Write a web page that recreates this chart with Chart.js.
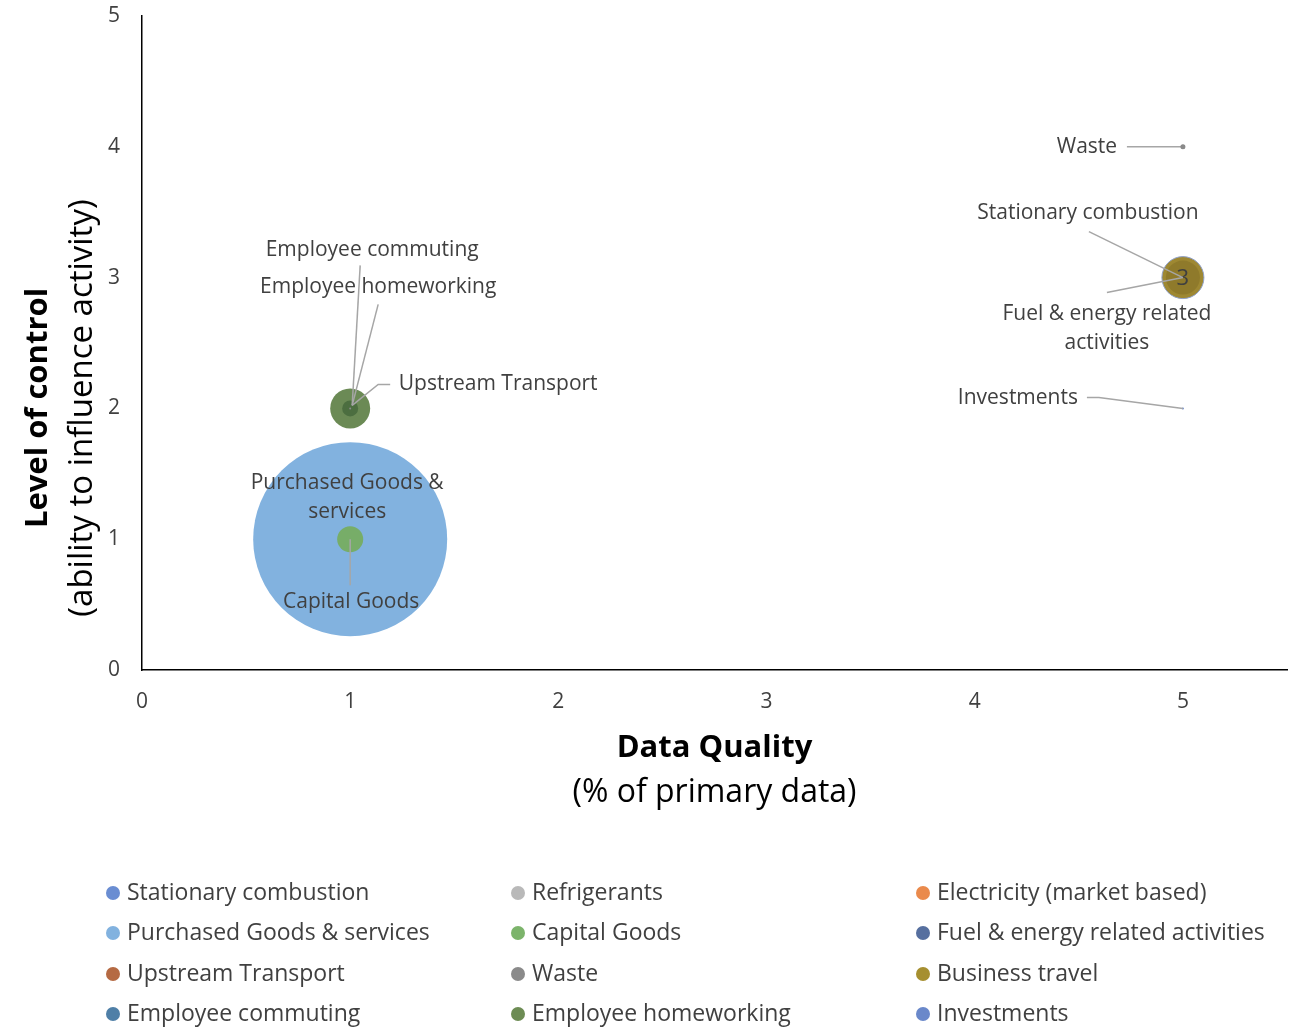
<!DOCTYPE html>
<html>
<head>
<meta charset="utf-8">
<script src="https://cdn.jsdelivr.net/npm/chart.js@4.4.1/dist/chart.umd.min.js"></script>
<style>
  html, body { margin: 0; padding: 0; background: #fff; }
  #wrap { position: relative; width: 1299px; height: 1027px; }
</style>
</head>
<body>
<div id="wrap"><canvas id="chart"></canvas></div>
<script>
// series names, in legend order (row by row)
const seriesNames = [
  'Stationary combustion', 'Refrigerants', 'Electricity (market based)',
  'Purchased Goods & services', 'Capital Goods', 'Fuel & energy related activities',
  'Upstream Transport', 'Waste', 'Business travel',
  'Employee commuting', 'Employee homeworking', 'Investments'
];
// legend swatch colours
const seriesColors = [
  '#6a8dd2', '#b9b9b9', '#ea8a4c',
  '#82b2df', '#7cb46b', '#566f9f',
  '#b56a43', '#8a8a8a', '#a68f30',
  '#4f7fa7', '#6d8c54', '#6a88ca'
];
// bubble fill as it shows on the plot (overlaps look darker there)
const plotColors = [
  '#8f7a2b', '#b9b9b9', '#ea8a4c',
  '#82b2df', '#77ad68', '#8f7a2b',
  '#8a8a8a', '#8a8a8a', '#9e8832',
  '#4c6e40', '#6b8a55', '#6a88ca'
];
// data quality (x), level of control (y), bubble radius (px)
const dataQuality   = [5, null, null, 1, 1, 5, 1, 5, 5, 1, 1, 5];
const controlLevel  = [3, null, null, 1, 1, 3, 2, 4, 3, 2, 2, 2];
const bubbleRadius  = [17, 0, 0, 97, 13, 9, 1, 2, 21, 8, 20, 1];
// drawing order (higher = drawn underneath)
const drawOrder     = [1, 9, 9, 5, 1, 2, 0, 0, 3, 0, 2, 0];
const xTicks = [0, 1, 2, 3, 4, 5];
const yTicks = [0, 1, 2, 3, 4, 5];

const FONT = "'Open Sans', sans-serif";
const TXT = '#404040';

// point labels: series index, text lines, label centre offset from point, leader path offsets
const pointLabels = [
  { i: 7,  lines: ['Waste'], dx: -96, dy: 0, leader: [[-56, 0], [0, 0]], dot: true },
  { i: 0,  lines: ['Stationary combustion'], dx: -95, dy: -65, leader: [[-94, -46], [0, 0]] },
  { i: 5,  lines: ['Fuel & energy related', 'activities'], dx: -76, dy: 51, leader: [[-76, 15], [0, 0]] },
  { i: 11, lines: ['Investments'], dx: -165, dy: -10, leader: [[-96, -11], [-84, -11], [0, 0]] },
  { i: 9,  lines: ['Employee commuting'], dx: 22, dy: -158, leader: [[10, -143], [2, -3]] },
  { i: 10, lines: ['Employee homeworking'], dx: 28, dy: -121, leader: [[28, -104], [2, -3]] },
  { i: 6,  lines: ['Upstream Transport'], dx: 148, dy: -24, leader: [[40, -24], [28, -24], [2, -3]] },
  { i: 3,  lines: ['Purchased Goods &', 'services'], dx: -3, dy: -42, leader: null },
  { i: 4,  lines: ['Capital Goods'], dx: 1, dy: 63, leader: [[0, 46], [0, 0]] }
];

const datasets = seriesNames.map((name, k) => ({
  label: name,
  data: dataQuality[k] === null ? [] : [{ x: dataQuality[k], y: controlLevel[k], r: bubbleRadius[k] }],
  backgroundColor: plotColors[k],
  borderColor: k === 8 ? '#8fa0c8' : plotColors[k],
  borderWidth: k === 8 ? 1 : 0,
  hoverRadius: 0,
  order: drawOrder[k]
}));

const labelPlugin = {
  id: 'labelPlugin',
  afterDatasetsDraw(chart) {
    const ctx = chart.ctx;
    const xs = chart.scales.x, ys = chart.scales.y;
    ctx.save();
    // "3" data label in the gold bubble
    ctx.font = '22px ' + FONT;
    ctx.fillStyle = TXT;
    ctx.textAlign = 'center';
    ctx.textBaseline = 'middle';
    ctx.fillText('3', xs.getPixelForValue(dataQuality[8]), ys.getPixelForValue(controlLevel[8]) + 1);

    pointLabels.forEach(l => {
      const px = xs.getPixelForValue(dataQuality[l.i]);
      const py = ys.getPixelForValue(controlLevel[l.i]);
      if (l.leader) {
        ctx.strokeStyle = '#a6a6a6';
        ctx.lineWidth = 1.5;
        ctx.beginPath();
        l.leader.forEach((p, j) => {
          if (j === 0) ctx.moveTo(px + p[0], py + p[1]);
          else ctx.lineTo(px + p[0], py + p[1]);
        });
        ctx.stroke();
        if (l.dot) {
          ctx.fillStyle = '#8a8a8a';
          ctx.beginPath();
          ctx.arc(px, py, 2.5, 0, Math.PI * 2);
          ctx.fill();
        }
      }
      ctx.font = '21px ' + FONT;
      ctx.fillStyle = TXT;
      ctx.textAlign = 'center';
      ctx.textBaseline = 'middle';
      const lh = 29;
      const y0 = py + l.dy - (l.lines.length - 1) * lh / 2;
      l.lines.forEach((t, j) => ctx.fillText(t, px + l.dx, y0 + j * lh));
    });
    ctx.restore();
  },
  afterDraw(chart) {
    const ctx = chart.ctx;
    const ca = chart.chartArea;
    ctx.save();
    ctx.fillStyle = '#000';
    ctx.textAlign = 'center';
    ctx.textBaseline = 'middle';
    // x axis title
    const cx = (ca.left + ca.right) / 2;
    ctx.font = 'bold 31px ' + FONT;
    ctx.fillText('Data Quality', cx, 748);
    ctx.font = '32px ' + FONT;
    ctx.fillText('(% of primary data)', cx, 793);
    // y axis title (sits a bit below the plot's middle)
    ctx.translate(38, 408);
    ctx.rotate(-Math.PI / 2);
    ctx.font = 'bold 31px ' + FONT;
    ctx.fillText('Level of control', 0, 0);
    ctx.font = '33px ' + FONT;
    ctx.fillText('(ability to influence activity)', 0, 45);
    ctx.restore();

    // legend, 3 columns x 4 rows
    ctx.save();
    const colX = [113, 518, 923];
    const rowY = [893, 933, 974, 1014];
    ctx.font = '23px ' + FONT;
    ctx.textAlign = 'left';
    ctx.textBaseline = 'middle';
    seriesNames.forEach((name, k) => {
      const x = colX[k % 3], y = rowY[Math.floor(k / 3)];
      ctx.fillStyle = seriesColors[k];
      ctx.beginPath();
      ctx.arc(x, y, 7, 0, Math.PI * 2);
      ctx.fill();
      ctx.fillStyle = TXT;
      ctx.fillText(name, x + 14, y);
    });
    ctx.restore();
  }
};

new Chart(document.getElementById('chart'), {
  type: 'bubble',
  data: { datasets },
  plugins: [labelPlugin],
  options: {
    responsive: true,
    maintainAspectRatio: false,
    animation: false,
    layout: { autoPadding: false, padding: { top: 16, right: 12, left: 0, bottom: 0 } },
    plugins: {
      legend: { display: false },
      tooltip: { enabled: false }
    },
    scales: {
      x: {
        type: 'linear',
        min: 0,
        max: 5.5,
        afterBuildTicks: s => { s.ticks = xTicks.map(v => ({ value: v })); },
        afterFit: s => { s.height = 357; s.paddingLeft = 0; s.paddingRight = 0; },
        grid: { display: false, drawTicks: false },
        border: { display: true, color: '#000', width: 1.5 },
        ticks: { color: TXT, font: { family: FONT, size: 21 }, padding: 19 }
      },
      y: {
        type: 'linear',
        min: 0,
        max: 5,
        afterBuildTicks: s => { s.ticks = yTicks.map(v => ({ value: v })); },
        afterFit: s => { s.width = 142; s.paddingTop = 0; s.paddingBottom = 0; },
        grid: { display: false, drawTicks: false },
        border: { display: true, color: '#000', width: 1.5 },
        ticks: { color: TXT, font: { family: FONT, size: 21 }, padding: 22 }
      }
    }
  }
});
</script>
</body>
</html>
